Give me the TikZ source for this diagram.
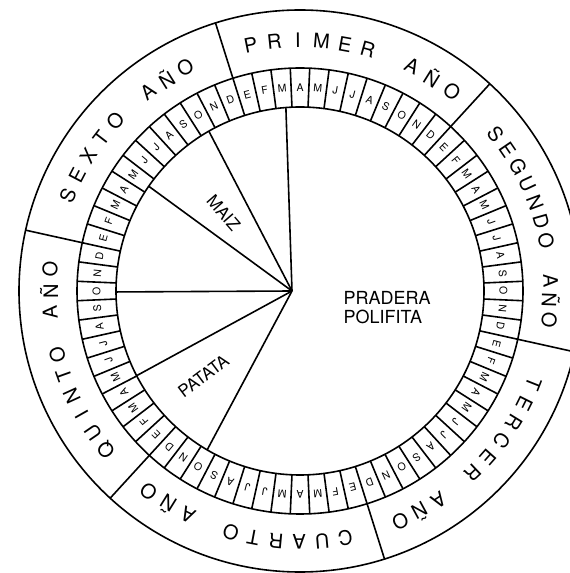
\documentclass[tikz,border=0pt]{standalone}
\usepackage{fontspec}
\setmainfont{TeX Gyre Heros}
\usetikzlibrary{calc}
\tikzset{
  linea/.style={line width=1.6pt},
  mes/.style={font=\fontsize{10.5}{12}\selectfont, inner sep=0pt},
  anio/.style={font=\fontsize{20}{24}\selectfont, inner sep=0pt},
  cultivo/.style={font=\fontsize{17}{19}\selectfont, inner sep=0pt},
  pradera/.style={font=\fontsize{18}{19.5}\selectfont, inner sep=0pt, align=left},
}
\begin{document}
\begin{tikzpicture}[x=1pt,y=1pt]
  \useasboundingbox (0,0) rectangle (570,573);
  \clip (0,0) rectangle (570,573);
  \coordinate (C) at (300,282);
  \coordinate (O) at (292,282);

  % circulos: borde, anillo de los meses y parcela
  \draw[linea] (C) circle[radius=281pt] (C) circle[radius=223pt] (C) circle[radius=184pt];

  % casillas de los meses (72 = 6 años x 12 meses)
  \foreach \a in {2.5,7.5,...,357.5}
    \draw[linea] ($(C)+(\a:184pt)$) -- ($(C)+(\a:223pt)$);
  % separaciones entre los años
  \foreach \a in {107.5,47.5,-12.5,-72.5,-132.5,-192.5}
    \draw[linea] ($(C)+(\a:223pt)$) -- ($(C)+(\a:281pt)$);

  % letras de los meses, en el sentido del reloj desde abril arriba
  \foreach \y in {0,...,5}
    \foreach \l [count=\m from 0] in {A,M,J,J,A,S,O,N,D,E,F,M} {
      \pgfmathsetmacro\a{90-5*(12*\y+\m)}
      \node[mes, rotate=\a-90] at ($(C)+(\a:203.5pt)$) {\l};
    }

  % nombres de los años: angulo inicial / paso / letras con su posicion
  \foreach \ini/\paso/\letras in {
      157.6/5.05/{S/0,E/1,X/2,T/3,O/4,A/6,Ñ/7,O/8},
      101.3/5.4/{P/0,R/1,I/2,M/3,E/4,R/5,A/7,Ñ/8,O/9},
      38.8/4.55/{S/0,E/1,G/2,U/3,N/4,D/5,O/6,A/8,Ñ/9,O/10},
      -21.6/4.98/{T/0,E/1,R/2,C/3,E/4,R/5,A/7,Ñ/8,O/9},
      -79.6/5.28/{C/0,U/1,A/2,R/3,T/4,O/5,A/7,Ñ/8,O/9},
      219.4/4.93/{Q/0,U/1,I/2,N/3,T/4,O/5,A/7,Ñ/8,O/9}}
    \foreach \l/\k in \letras {
      \pgfmathsetmacro\a{\ini-\k*\paso}
      \node[anio, rotate=\a-90] at ($(C)+(\a:251pt)$) {\l};
    }

  % reparto de la parcela
  \coordinate (r1) at ($(C)+(94.4:184pt)$);
  \coordinate (r2) at ($(C)+(119.7:184pt)$);
  \coordinate (r3) at ($(C)+(145.3:184pt)$);
  \coordinate (r4) at ($(C)+(180.3:184pt)$);
  \coordinate (r5) at ($(C)+(207.4:184pt)$);
  \coordinate (r6) at ($(C)+(239.7:184pt)$);
  \foreach \r in {r1,r2,r3,r4,r5,r6}
    \draw[linea] (O) -- (\r);

  \node[cultivo, rotate=-49] (maiz) at (223.5,360) {MAIZ};
  \node[cultivo, rotate=37] (patata) at (203.5,197) {PATATA};
  \node[pradera, anchor=west] (prado) at (343.5,265.5) {PRADERA\\POLIFITA};
\end{tikzpicture}
\end{document}
